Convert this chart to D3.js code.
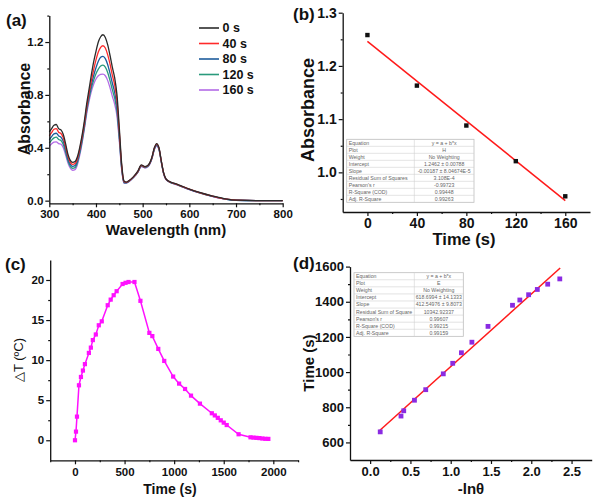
<!DOCTYPE html>
<html><head><meta charset="utf-8">
<script src="https://cdn.jsdelivr.net/npm/d3@7"></script>
<style>
html,body{margin:0;padding:0;background:#fff;}
svg{display:block;font-family:"Liberation Sans",Arial,sans-serif;}
</style></head>
<body>
<svg id="c" width="600" height="498"></svg>
<script>
// ---------- DATA ----------
const wavelengths = [300,305,310,315,320,325,330,335,340,345,350,355,360,365,370,375,380,385,390,395,400,405,410,415,420,425,430,435,440,445,450,455,460,465,470,480,490,497,505,512,520,525,530,535,540,545,550,560,570,580,600,620,650,680,700,750,800];
const abs0s   = [.520,.545,.570,.576,.545,.535,.500,.430,.350,.305,.290,.295,.330,.400,.490,.600,.730,.840,.950,1.050,1.130,1.200,1.240,1.255,1.235,1.180,1.100,1.010,.930,.800,.550,.280,.150,.140,.150,.180,.225,.270,.258,.270,.330,.400,.432,.400,.300,.210,.165,.140,.128,.115,.088,.064,.035,.012,.004,.000,.000];
const abs40s  = [.490,.515,.540,.545,.518,.508,.475,.408,.335,.290,.275,.280,.315,.385,.475,.580,.705,.810,.905,.990,1.065,1.125,1.160,1.172,1.155,1.105,1.035,.950,.875,.755,.520,.265,.145,.138,.148,.178,.222,.267,.255,.267,.327,.396,.427,.396,.297,.208,.163,.139,.127,.114,.087,.063,.034,.011,.004,.000,.000];
const abs80s  = [.460,.485,.505,.510,.490,.480,.450,.386,.315,.275,.260,.265,.300,.370,.460,.565,.690,.790,.875,.945,1.005,1.055,1.085,1.092,1.075,1.030,.965,.890,.820,.710,.495,.255,.140,.136,.146,.176,.220,.265,.253,.265,.325,.393,.422,.393,.295,.206,.162,.138,.126,.113,.086,.062,.033,.011,.003,.000,.000];
const abs120s = [.435,.458,.475,.480,.463,.455,.425,.365,.300,.260,.245,.250,.285,.355,.445,.550,.675,.770,.850,.910,.960,.995,1.018,1.025,1.010,.970,.910,.840,.775,.675,.470,.245,.135,.134,.144,.174,.218,.262,.250,.262,.322,.389,.418,.389,.292,.204,.161,.137,.125,.112,.085,.061,.032,.010,.003,.000,.000];
const abs160s = [.410,.430,.443,.445,.432,.428,.400,.345,.285,.245,.230,.235,.270,.340,.430,.540,.655,.750,.825,.880,.920,.945,.955,.958,.945,.910,.855,.790,.730,.640,.450,.235,.130,.132,.142,.172,.215,.258,.247,.258,.318,.385,.412,.385,.290,.202,.160,.136,.124,.111,.084,.060,.031,.010,.003,.000,.000];
const spectraLabels = ["0 s","40 s","80 s","120 s","160 s"];
const spectraColors = ["#2b2b2b","#ff2a2a","#1d5c9c","#2a9a7c","#b36be6"];

const kinTimes = [0,40,80,120,160];
const kinAbs = [1.258,1.163,1.088,1.021,0.955];
const kinFit = [1.2462,-0.00187]; // intercept, slope
const kinTableLabels = ["Equation","Plot","Weight","Intercept","Slope","Residual Sum of Squares","Pearson's r","R-Square (COD)","Adj. R-Square"];
const kinTableValues = ["y = a + b*x","H","No Weighting","1.2462 ± 0.00788","-0.00187 ± 8.04674E-5","3.108E-4","-0.99723","0.99448","0.99263"];

const heatTimes = [0,10,20,40,60,80,100,140,160,180,210,240,270,330,360,390,420,480,510,540,600,660,750,780,840,900,990,1050,1110,1170,1260,1380,1410,1440,1470,1500,1530,1650,1770,1800,1830,1860,1890,1920,1950];
const heatTemps = [0,1.08,2.95,6.86,7.9,8.7,9.5,10.9,11.56,12.5,13.2,14.35,14.84,16.85,17.55,18.1,18.6,19.5,19.65,19.75,19.75,17.4,13.4,13.0,11.4,9.9,7.95,7.07,6.4,5.57,4.57,3.37,3.1,2.8,2.49,2.2,1.9,0.75,0.37,0.33,0.3,0.27,0.22,0.18,0.17];

const negLnTheta = [0.125,0.383,0.417,0.55,0.69,0.908,1.025,1.133,1.263,1.463,1.767,1.858,1.967,2.075,2.204,2.354];
const coolTimes = [660,750,780,840,900,990,1050,1110,1170,1260,1380,1410,1440,1470,1500,1530];
const coolFit = [618.6994,412.54976];
const coolTableLabels = ["Equation","Plot","Weight","Intercept","Slope","Residual Sum of Square","Pearson's r","R-Square (COD)","Adj. R-Square"];
const coolTableValues = ["y = a + b*x","E","No Weighting","618.6994 ± 14.1333","412.54976 ± 9.8073","10342.92337","0.99607","0.99215","0.99159"];

// ---------- HELPERS ----------
const svg = d3.select("#c");
svg.append("rect").attr("width",600).attr("height",498).attr("fill","#fff");

function axes(g, x, y, o){
  const ya = g.append("g").attr("transform",`translate(${o.x0},0)`);
  ya.call(d3.axisLeft(y).tickValues(o.yMajor).tickFormat(o.yFmt).tickSize(4).tickSizeOuter(0).tickPadding(o.yPad||2));
  ya.append("g").call(d3.axisLeft(y).tickValues(o.yMinor).tickFormat("").tickSize(2).tickSizeOuter(0)).select(".domain").remove();
  const xa = g.append("g").attr("transform",`translate(0,${o.y0})`);
  xa.call(d3.axisBottom(x).tickValues(o.xMajor).tickFormat(o.xFmt).tickSize(4).tickSizeOuter(0).tickPadding(o.xPad||3));
  xa.append("g").call(d3.axisBottom(x).tickValues(o.xMinor).tickFormat("").tickSize(2).tickSizeOuter(0)).select(".domain").remove();
  [ya,xa].forEach(a=>{
    a.selectAll("path.domain").attr("stroke","#111").attr("stroke-width",1.3);
    a.selectAll(".tick line").attr("stroke","#111").attr("stroke-width",1.2);
    a.selectAll(".tick text").attr("fill","#111").attr("font-weight","bold").attr("font-size",o.fs).attr("font-family","Liberation Sans, Arial, sans-serif");
  });
}
function text(x,y,s,o){
  const t = svg.append("text").attr("x",x).attr("y",y).text(s)
    .attr("font-size",o.fs).attr("font-weight",o.fw||"bold").attr("fill","#111")
    .attr("text-anchor",o.anchor||"start");
  if(o.rot) t.attr("transform",`rotate(-90,${x},${y})`);
  return t;
}
function table(x0,y0,w,c1,rowH,labels,values){
  const g = svg.append("g");
  const n = labels.length;
  g.append("rect").attr("x",x0).attr("y",y0).attr("width",w).attr("height",n*rowH)
    .attr("fill","#fff").attr("stroke","#bdbdbd").attr("stroke-width",0.8);
  for(let i=1;i<n;i++) g.append("line").attr("x1",x0).attr("x2",x0+w).attr("y1",y0+i*rowH).attr("y2",y0+i*rowH).attr("stroke","#d0d0d0").attr("stroke-width",0.6);
  g.append("line").attr("x1",c1).attr("x2",c1).attr("y1",y0).attr("y2",y0+n*rowH).attr("stroke","#d0d0d0").attr("stroke-width",0.6);
  labels.forEach((l,i)=>{
    g.append("text").attr("x",x0+2).attr("y",y0+i*rowH+rowH-1.6).text(l).attr("font-size",5.2).attr("fill","#666");
    g.append("text").attr("x",(c1+x0+w)/2).attr("y",y0+i*rowH+rowH-1.6).text(values[i]).attr("font-size",5.2).attr("fill","#666").attr("text-anchor","middle");
  });
}

// ---------- (a) ----------
{
  const x = d3.scaleLinear().domain([300,800]).range([49.3,282.7]);
  const y = d3.scaleLinear().domain([-0.02,1.4]).range([203.3,15.6]);
  const g = svg.append("g");
  const series = [abs0s,abs40s,abs80s,abs120s,abs160s];
  const line = d3.line().x((d,i)=>x(wavelengths[i])).y(d=>y(d)).curve(d3.curveMonotoneX);
  series.slice().reverse().forEach((s,k)=>{
    const i = series.length-1-k;
    g.append("path").attr("d",line(s)).attr("fill","none").attr("stroke",spectraColors[i]).attr("stroke-width",1.3);
  });
  axes(g,x,y,{x0:49.3,y0:203.3,yMajor:[0,0.4,0.8,1.2],yMinor:[0.2,0.6,1.0,1.4],yFmt:d3.format(".1f"),
    xMajor:[300,400,500,600,700,800],xMinor:[350,450,550,650,750],xFmt:d3.format("d"),fs:11.5,yPad:2,xPad:3});
  spectraLabels.forEach((l,i)=>{
    const yy = 28 + i*15.5;
    g.append("line").attr("x1",199).attr("x2",219).attr("y1",yy).attr("y2",yy).attr("stroke",spectraColors[i]).attr("stroke-width",1.6);
    g.append("text").attr("x",222.5).attr("y",yy+4.3).text(l).attr("font-size",12.5).attr("font-weight","bold").attr("fill","#111");
  });
  text(6,26,"(a)",{fs:17});
  text(30,109,"Absorbance",{fs:16,rot:true,anchor:"middle"});
  text(166,235,"Wavelength (nm)",{fs:15,anchor:"middle"});
}

// ---------- (b) ----------
{
  const x = d3.scaleLinear().domain([-20,180]).range([342.7,590]);
  const y = d3.scaleLinear().domain([0.9255,1.3]).range([212,12.7]);
  const g = svg.append("g");
  axes(g,x,y,{x0:342.7,y0:212,yMajor:[1.0,1.1,1.2,1.3],yMinor:[0.95,1.05,1.15,1.25],yFmt:d3.format(".1f"),
    xMajor:[0,40,80,120,160],xMinor:[20,60,100,140],xFmt:d3.format("d"),fs:14,yPad:2,xPad:2.5});
  table(346.7,139.3,127.3,414.3,7,kinTableLabels,kinTableValues);
  const x1 = kinTimes[0], x2 = kinTimes[kinTimes.length-1];
  g.append("line").attr("x1",x(x1)).attr("x2",x(x2)).attr("y1",y(kinFit[0]+kinFit[1]*x1)).attr("y2",y(kinFit[0]+kinFit[1]*x2))
    .attr("stroke","#ff1a1a").attr("stroke-width",1.5);
  svg.append("g").selectAll("rect").data(kinTimes).join("rect")
    .attr("x",(d)=>x(d)-2.2).attr("y",(d,i)=>y(kinAbs[i])-2.2).attr("width",4.4).attr("height",4.4).attr("fill","#111");
  text(293,20,"(b)",{fs:17});
  text(314,110,"Absorbance",{fs:18,rot:true,anchor:"middle"});
  text(464,245,"Time (s)",{fs:16.5,anchor:"middle"});
}

// ---------- (c) ----------
{
  const x = d3.scaleLinear().domain([-250,2250]).range([50.2,298.1]);
  const y = d3.scaleLinear().domain([-2.5,22.5]).range([460.3,259.96]);
  const g = svg.append("g");
  axes(g,x,y,{x0:50.2,y0:460.3,yMajor:[0,5,10,15,20],yMinor:[2.5,7.5,12.5,17.5],yFmt:d3.format("d"),
    xMajor:[0,500,1000,1500,2000],xMinor:[-250,250,750,1250,1750,2250],xFmt:d3.format("d"),fs:11.5,yPad:2,xPad:4});
  const line = d3.line().x((d,i)=>x(heatTimes[i])).y(d=>y(d));
  g.append("path").attr("d",line(heatTemps)).attr("fill","none").attr("stroke","#ff10ff").attr("stroke-width",1.5);
  g.selectAll("rect.m").data(heatTemps).join("rect").attr("class","m")
    .attr("x",(d,i)=>x(heatTimes[i])-2.1).attr("y",d=>y(d)-2.1).attr("width",4.2).attr("height",4.2).attr("fill","#ff10ff");
  text(5,270,"(c)",{fs:17});
  text(23,360,"\u25B3T (\u00BAC)",{fs:13,fw:"normal",rot:true,anchor:"middle"});
  text(170,494,"Time (s)",{fs:14,anchor:"middle"});
}

// ---------- (d) ----------
{
  const x = d3.scaleLinear().domain([-0.25,2.75]).range([350,591.7]);
  const y = d3.scaleLinear().domain([500,1600]).range([460,266.6]);
  const g = svg.append("g");
  axes(g,x,y,{x0:350,y0:460,yMajor:[600,800,1000,1200,1400,1600],yMinor:[700,900,1100,1300,1500],yFmt:d3.format("d"),
    xMajor:[0,0.5,1,1.5,2,2.5],xMinor:[0.25,0.75,1.25,1.75,2.25],xFmt:d3.format(".1f"),fs:13,yPad:2,xPad:3});
  table(354,272.7,109.3,414.3,7.07,coolTableLabels,coolTableValues);
  const x1 = negLnTheta[0]-0.01, x2 = negLnTheta[negLnTheta.length-1]+0.005;
  g.append("line").attr("x1",x(x1)).attr("x2",x(x2)).attr("y1",y(coolFit[0]+coolFit[1]*x1)).attr("y2",y(coolFit[0]+coolFit[1]*x2))
    .attr("stroke","#ff1a1a").attr("stroke-width",1.5);
  svg.append("g").selectAll("rect").data(negLnTheta).join("rect")
    .attr("x",d=>x(d)-2.4).attr("y",(d,i)=>y(coolTimes[i])-2.4).attr("width",4.8).attr("height",4.8).attr("fill","#8a2be2");
  text(293,269,"(d)",{fs:17});
  text(314,363,"Time (s)",{fs:15,rot:true,anchor:"middle"});
  text(471,494,"-ln\u03B8",{fs:15,anchor:"middle"});
}
</script>
</body></html>
